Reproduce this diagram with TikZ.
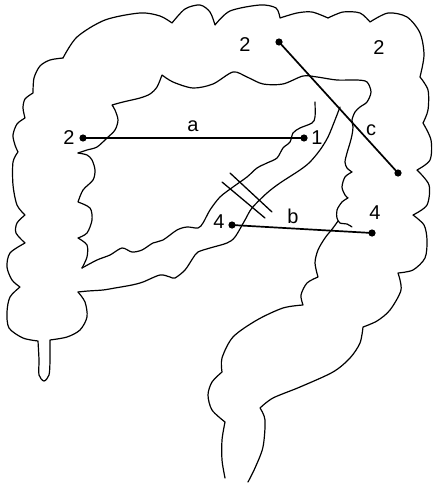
\documentclass[tikz,border=0pt]{standalone}
\usepackage{fontspec}
\setmainfont{Liberation Sans}
\begin{document}
\begin{tikzpicture}[x=1pt, y=-1pt, line join=round, line cap=round,
	font=\fontsize{20}{22}\selectfont,
	wall/.style={line width=1.2pt},
	lbl/.style={line width=1.7pt},
	cut/.style={line width=1.3pt}]
	\useasboundingbox (0,0) rectangle (433,487);
	% outer wall: left side, cecum, appendix
	\draw[wall] plot[smooth] coordinates {(63,58) (50,60) (40,66) (34,78) (33,93)}
		plot[smooth] coordinates {(33,93) (25,99) (23,108) (25,118)}
		plot[smooth] coordinates {(25,118) (17,124) (13,135) (15,145) (18,152)}
		plot[smooth] coordinates {(18,152) (13,162) (13,185) (17,205) (25,215)}
		plot[smooth] coordinates {(25,215) (17,223) (16,233) (25,243)}
		plot[smooth] coordinates {(25,243) (10,253) (7,267) (12,280) (20,287)}
		plot[smooth] coordinates {(20,287) (10,297) (7,312) (9,328) (23,338) (38,341)}
		plot[smooth] coordinates {(38,341) (39,360) (39,375) (44,381) (49,375) (50,360) (50,340)}
		plot[smooth] coordinates {(50,340) (67,337) (80,330) (87,317) (85,302) (78,292)};
	% outer wall: top
	\draw[wall] plot[smooth] coordinates {(63,58) (77,37) (105,20) (140,13) (160,16) (172,23)}
		plot[smooth] coordinates {(172,23) (185,9) (200,5) (210,12) (215,25)}
		plot[smooth] coordinates {(215,25) (230,11) (260,5) (276,8) (280,18)}
		plot[smooth] coordinates {(280,18) (297,13) (312,12) (328,18)}
		plot[smooth] coordinates {(328,18) (343,12) (360,13) (370,22)}
		plot[smooth] coordinates {(370,22) (388,13) (407,17) (420,33) (424,55) (420,77)};
	% outer wall: right side and sigmoid
	\draw[wall] plot[smooth] coordinates {(420,77) (428,90) (428,110) (423,123)}
		plot[smooth] coordinates {(423,123) (431,140) (430,160) (417,170)}
		plot[smooth] coordinates {(417,170) (429,185) (427,205) (413,215)}
		plot[smooth] coordinates {(413,215) (424,225) (427,240) (425,258) (413,270) (398,273)}
		plot[smooth] coordinates {(398,273) (401,290) (390,310) (377,321) (363,327)}
		plot[smooth] coordinates {(363,327) (360,343) (350,358) (333,372) (300,387) (273,398) (260,408)}
		plot[smooth] coordinates {(260,408) (265,420) (263,447) (255,468) (248,482)};
	\draw[wall] plot[smooth] coordinates {(225,478) (222,460) (222,440) (225,422)}
		plot[smooth] coordinates {(225,422) (212,410) (208,395) (212,382) (222,372)}
		plot[smooth] coordinates {(222,372) (222,358) (233,337) (257,320) (283,308) (303,305)}
		plot[smooth] coordinates {(303,305) (301,295) (307,283) (318,277)}
		plot[smooth] coordinates {(318,277) (315,263) (318,250) (325,238) (333,228) (338,221)};
	% inner wall of transverse and descending part
	\draw[wall] plot[smooth] coordinates {(78,153) (87,150) (97,147) (107,138) (115,130) (118,120) (115,110) (112,105)}
		plot[smooth] coordinates {(112,105) (123,102) (140,98) (150,94) (157,87) (162,75)}
		plot[smooth] coordinates {(162,75) (173,82) (193,88) (213,84) (233,72) (247,77) (263,84) (283,84)
			(303,76) (317,77) (337,80) (357,80) (367,82) (371,92) (367,102) (360,107) (355,112) (352,120)
			(353,127) (352,135) (350,143) (347,153) (345,162) (347,168) (352,172)}
		plot[smooth] coordinates {(352,172) (345,177) (342,187) (345,195) (348,198)}
		plot[smooth] coordinates {(348,198) (342,202) (337,210) (337,218) (340,223) (347,224) (352,227)};
	% inner wall of ascending part
	\draw[wall] plot[smooth] coordinates {(78,153) (87,155) (92,160) (95,170) (93,180) (83,190) (78,202)}
		plot[smooth] coordinates {(78,202) (90,208) (92,220) (87,233) (78,238)}
		plot[smooth] coordinates {(78,238) (87,245) (87,257) (82,268)};
	% folded loop, upper edge
	\draw[wall] plot[smooth] coordinates {(82,268) (97,260) (110,255) (122,248) (132,252) (142,250) (153,243)
			(163,240) (177,230) (187,227) (198,228) (203,223) (210,210) (220,197) (233,187) (247,177)
			(257,168) (267,163) (277,158) (283,148) (290,142) (293,133) (300,128) (312,123) (315,117) (315,102)};
	% folded loop, lower edge
	\draw[wall] plot[smooth] coordinates {(78,292) (88,291) (103,290) (115,288) (132,285) (143,282) (160,275)
			(170,277) (175,278) (185,270) (193,258) (198,252) (210,248) (227,243) (235,237) (245,220)
			(252,208) (267,193) (280,183) (300,170) (310,162) (320,150) (328,137) (335,120) (340,107)};
	% cut marks
	\draw[cut] (222,182) -- (265,218) (230,173) -- (272,212);
	% labels
	\coordinate (p2l) at (83,138);
	\coordinate (p1) at (304,138);
	\coordinate (p2t) at (279,42);
	\coordinate (pc) at (398,173);
	\coordinate (p4l) at (232,225);
	\coordinate (p4r) at (372,233);
	\draw[lbl] (p2l) -- (p1) (p2t) -- (pc) (p4l) -- (p4r);
	\fill (p2l) circle (3.6pt) (p1) circle (3.6pt) (p2t) circle (3.6pt)
		(pc) circle (3.6pt) (p4l) circle (3.6pt) (p4r) circle (3.6pt);
	\node (n2l) at (69,138) {2};
	\node (n1) at (317,138) {1};
	\node (n2t) at (245,45) {2};
	\node (n2r) at (379,48) {2};
	\node (n4l) at (219,222) {4};
	\node (n4r) at (375,213) {4};
	\node (na) at (193,126) {a};
	\node (nb) at (293,216) {b};
	\node (nc) at (371,130) {c};
\end{tikzpicture}
\end{document}
